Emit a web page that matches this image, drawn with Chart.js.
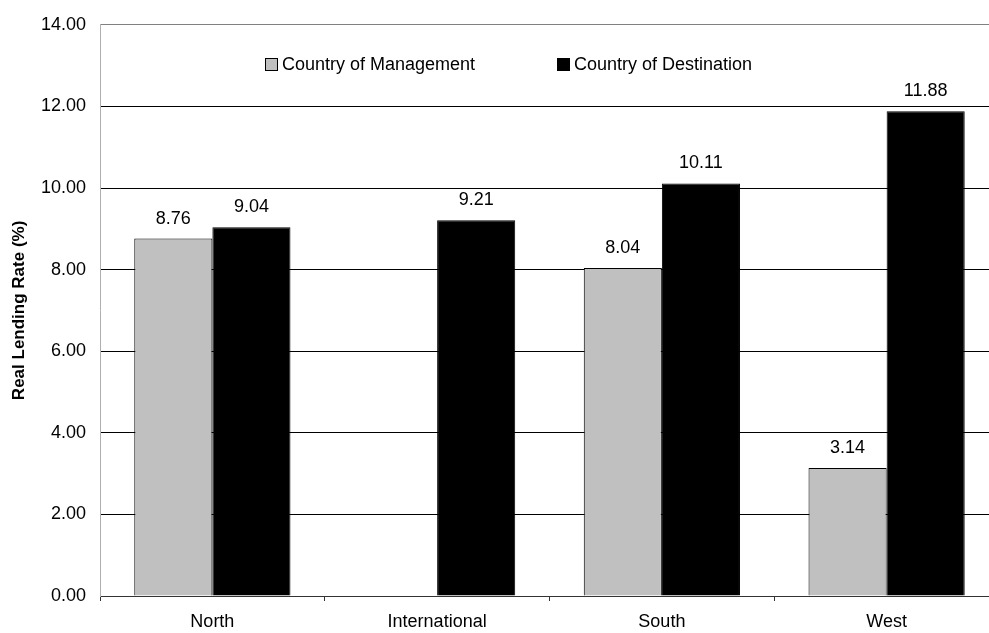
<!DOCTYPE html>
<html lang="en">
<head>
  <meta charset="UTF-8" />
  <title>Real Lending Rate</title>
  <style>
    html, body { margin: 0; padding: 0; background: #fff; overflow: hidden; }
    #wrap { width: 999px; height: 633px; }
  </style>
</head>
<body>
  <div id="wrap"><canvas id="myChart" width="999" height="633"></canvas></div>

  <script src="https://cdn.jsdelivr.net/npm/chart.js"></script>
  <script>
    const ctx = document.getElementById('myChart');

// data
const regions = ['North', 'International', 'South', 'West'];
const management = [8.76, null, 8.04, 3.14];
const destination = [9.04, 9.21, 10.11, 11.88];
const seriesNames = ['Country of Management', 'Country of Destination'];
const yTicks = [0, 2, 4, 6, 8, 10, 12, 14];

const FONT = "'Liberation Sans', Arial, sans-serif";

// legend sits inside the plot, like the original
const insideLegend = {
  id: 'insideLegend',
  afterDraw(chart, args, opts) {
    const c = chart.ctx;
    c.save();
    c.font = '18px ' + FONT;
    c.textBaseline = 'middle';
    c.textAlign = 'left';
    chart.data.datasets.forEach((ds, i) => {
      const x = opts.xs[i];
      const y = opts.y;
      c.fillStyle = ds.backgroundColor;
      c.fillRect(x, y - 6, 13, 13);
      c.strokeStyle = '#000';
      c.lineWidth = 1;
      c.strokeRect(x + 0.5, y - 5.5, 12, 12);
      c.fillStyle = '#000';
      c.fillText(ds.label, x + 17, y + 1);
    });
    c.restore();
  }
};

// value labels above each bar
const barValues = {
  id: 'barValues',
  afterDatasetsDraw(chart) {
    const c = chart.ctx;
    c.save();
    c.font = '18px ' + FONT;
    c.fillStyle = '#000';
    c.textAlign = 'center';
    c.textBaseline = 'bottom';
    chart.data.datasets.forEach((ds, i) => {
      chart.getDatasetMeta(i).data.forEach((bar, j) => {
        const v = ds.data[j];
        if (v === null || v === undefined) return;
        c.fillText(v.toFixed(2), bar.x, bar.y - 11);
      });
    });
    c.restore();
  }
};

const data = {
  labels: regions,
  datasets: [
    {
      label: seriesNames[0],
      data: management,
      backgroundColor: '#c0c0c0',
      borderColor: '#000',
      borderWidth: 1
    },
    {
      label: seriesNames[1],
      data: destination,
      backgroundColor: '#000',
      borderColor: '#000',
      borderWidth: 1
    }
  ]
};

    new Chart(ctx, {
      type: 'bar',
      data: data,
      plugins: [insideLegend, barValues],
      options: {
        responsive: false,
        animation: false,
        categoryPercentage: 0.695,
        barPercentage: 1,
        layout: { padding: { top: 20, right: 0, bottom: 0, left: 0 } },
        plugins: {
          legend: { display: false },
          tooltip: { enabled: false },
          insideLegend: { xs: [265, 557], y: 64 }
        },
        scales: {
          x: {
            afterFit(scale) { scale.height = 37; },
            border: { display: true, color: '#333', width: 1 },
            grid: {
              display: true,
              drawOnChartArea: false,
              drawTicks: true,
              tickLength: 5,
              color: '#333',
              offset: true
            },
            ticks: {
              color: '#000',
              padding: 10,
              font: { family: FONT, size: 18 }
            }
          },
          y: {
            min: 0,
            max: 14,
            afterFit(scale) { scale.width = 100; },
            afterBuildTicks(scale) { scale.ticks = yTicks.map(v => ({ value: v })); },
            border: { display: true, color: '#b0b0b0', width: 1 },
            grid: {
              drawTicks: false,
              lineWidth: 1,
              color: (c) => {
                if (c.tick && c.tick.value === 14) return '#808080';
                if (c.tick && c.tick.value === 0) return 'rgba(0,0,0,0)';
                return '#000';
              }
            },
            ticks: {
              color: '#000',
              padding: 14,
              font: { family: FONT, size: 18 },
              callback: (v) => Number(v).toFixed(2)
            },
            title: {
              display: true,
              text: 'Real Lending Rate (%)',
              color: '#000',
              padding: { top: 9, bottom: 0 },
              font: { family: FONT, size: 17, weight: 'bold' }
            }
          }
        }
      }
    });
  </script>
</body>
</html>
